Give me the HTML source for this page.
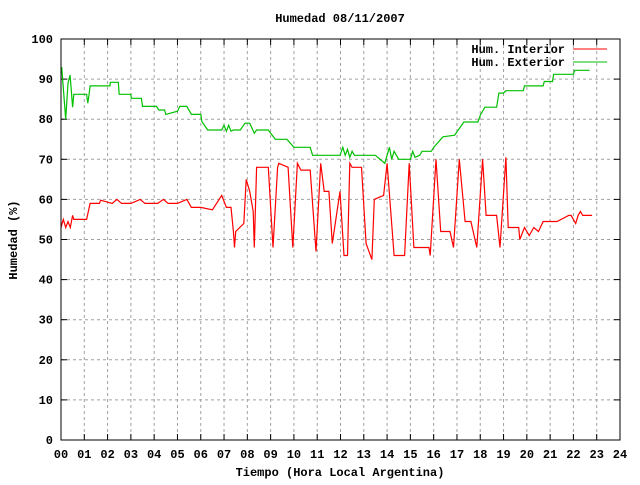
<!DOCTYPE html>
<html><head><meta charset="utf-8"><style>
html,body{margin:0;padding:0;background:#fff;}
svg text{font-family:"Liberation Mono",monospace;font-size:12px;font-weight:bold;fill:#000;}
</style></head><body>
<svg id="chart" width="640" height="480" viewBox="0 0 640 480" xmlns="http://www.w3.org/2000/svg">
<rect width="640" height="480" fill="#fff"/>
<text x="340" y="22" text-anchor="middle">Humedad 08/11/2007</text>
<text x="340" y="476" text-anchor="middle">Tiempo (Hora Local Argentina)</text>
<text transform="translate(17,240) rotate(-90)" text-anchor="middle">Humedad (%)</text>
<g id="grid"></g><g id="ticks"></g><g id="series"></g>
<rect x="61" y="39" width="559" height="401" fill="none" stroke="#000" stroke-width="1"/>
<g>
<text x="565" y="53" text-anchor="end">Hum. Interior</text>
<line x1="573" y1="49" x2="607" y2="49" stroke="#f00"/>
<text x="565" y="66" text-anchor="end">Hum. Exterior</text>
<line x1="573" y1="62" x2="607" y2="62" stroke="#00c000"/>
</g>
</svg>
<script>
const yTicks=[0,10,20,30,40,50,60,70,80,90,100];
const xTicks=[0,1,2,3,4,5,6,7,8,9,10,11,12,13,14,15,16,17,18,19,20,21,22,23,24];
const extHours=[0.03,0.2,0.3,0.39,0.5,0.55,1.1,1.15,1.2,1.25,2.1,2.12,2.46,2.5,3.0,3.02,3.45,3.5,4.1,4.2,4.45,4.5,5.0,5.1,5.4,5.6,6.0,6.05,6.3,6.9,7.0,7.1,7.2,7.3,7.4,7.7,7.9,8.1,8.3,8.4,8.9,9.2,9.7,10.0,10.2,10.7,10.8,11.6,11.98,12.1,12.2,12.3,12.4,12.5,12.6,13.5,13.9,14.0,14.1,14.2,14.3,14.5,15.0,15.1,15.2,15.4,15.5,15.9,16.0,16.4,16.9,17.3,17.9,18.0,18.2,18.7,18.8,19.0,19.1,19.85,19.9,20.7,20.75,21.1,21.15,22.0,22.05,22.7];
const extValues=[93,80,89,91,83,86.2,86.2,84,86,88.3,88.3,89.2,89.2,86.2,86.2,85.2,85.2,83.2,83.2,82.3,82.3,81.2,82,83.2,83.2,81.2,81.2,79.4,77.3,77.3,78.5,77,78.5,77,77.3,77.3,79,79,76.5,77.3,77.3,75,75,73,73,73,71,71,71,73,71,72.5,70.5,72,71,71,69,71,73,70,72,70,70,72,70.5,71,72,72,73,75.6,76,79.3,79.3,81,83,83,86.5,86.5,87.1,87.1,88.3,88.3,89.4,89.4,91.2,91.2,92.2,92.2];
const intHours=[0,0.1,0.2,0.3,0.4,0.5,0.55,1.1,1.25,1.65,1.7,2.2,2.4,2.6,3.0,3.4,3.6,4.15,4.4,4.6,5.0,5.4,5.6,6.0,6.5,6.9,7.1,7.3,7.4,7.45,7.5,7.85,7.95,8.1,8.25,8.3,8.4,8.9,9.1,9.3,9.35,9.75,9.95,10.15,10.3,10.7,10.95,11.15,11.3,11.5,11.65,11.98,12.15,12.3,12.4,12.5,12.9,13.1,13.35,13.45,13.85,14.0,14.3,14.75,14.95,15.15,15.3,15.8,15.85,16.1,16.3,16.7,16.85,17.1,17.35,17.6,17.85,18.1,18.25,18.7,18.85,19.1,19.2,19.65,19.7,19.9,20.1,20.3,20.5,20.7,21.3,21.8,21.9,22.1,22.2,22.3,22.4,22.8];
const intValues=[53,55,53,54.5,53,56,55,55,59,59,59.8,59,60,59,59,60,59,59,60,59,59,60,58,58,57.4,61,58,58,52,48,52,54,65,62,57,48,68,68,48,68,69,68,48,69,67.3,67.3,47,69,62,62,49,62,46,46,69,68,68,49,45,60,61,69,46,46,69,48,48,48,46,70,52,52,48,70,54.5,54.5,48,70,56,56,48,70.5,53,53,50,53,51,53,52,54.5,54.5,56,56,54,56,57,56,56];
const X0=61,X1=620,Y0=440,Y1=39;
function xs(h){return X0+h*(X1-X0)/24;}
function ys(v){return Y0-v*(Y0-Y1)/100;}
const NS='http://www.w3.org/2000/svg';
const grid=document.getElementById('grid'),ticks=document.getElementById('ticks'),series=document.getElementById('series');
function mk(tag,attrs,parent){const e=document.createElementNS(NS,tag);for(const k in attrs)e.setAttribute(k,attrs[k]);parent.appendChild(e);return e;}
yTicks.forEach(v=>{
  const y=ys(v);
  if(v>0&&v<100){const g=mk('line',{x1:X0,x2:X1,y1:y,y2:y,stroke:'#a0a0a0','stroke-dasharray':'3,3'},grid);
  
  }
  mk('line',{x1:X0,x2:X0+6,y1:y,y2:y,stroke:'#000'},ticks);
  mk('line',{x1:X1-6,x2:X1,y1:y,y2:y,stroke:'#000'},ticks);
  const t=mk('text',{x:53,y:y+4,'text-anchor':'end'},ticks);t.textContent=v;
  
  
});
xTicks.forEach(h=>{
  const x=xs(h);
  if(h>0&&h<24){const g=mk('line',{x1:x,x2:x,y1:Y1,y2:Y0,stroke:'#a0a0a0','stroke-dasharray':'3,3'},grid);
  
  }
  mk('line',{x1:x,x2:x,y1:Y0,y2:Y0-6,stroke:'#000'},ticks);
  mk('line',{x1:x,x2:x,y1:Y1,y2:Y1+6,stroke:'#000'},ticks);
  const t=mk('text',{x:x,y:458,'text-anchor':'middle'},ticks);t.textContent=String(h).padStart(2,'0');
  
  
});
function line(hs,vs,color,name){
  const pts=hs.map((h,i)=>xs(h).toFixed(1)+','+ys(vs[i]).toFixed(1)).join(' ');
  const p=mk('polyline',{points:pts,fill:'none',stroke:color,'stroke-width':1.2},series);
  
  
}
line(extHours,extValues,'#00c000','exterior-humidity-line');
line(intHours,intValues,'#f00','interior-humidity-line');
</script>
</body></html>
